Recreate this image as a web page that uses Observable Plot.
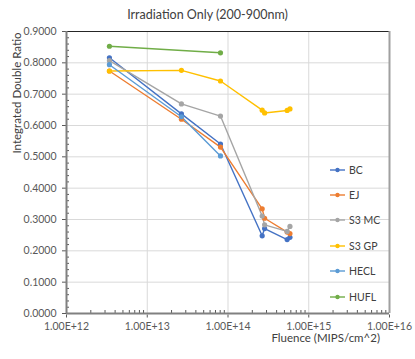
<!DOCTYPE html>
<html>
<head>
<meta charset="utf-8">
<script src="https://cdn.jsdelivr.net/npm/d3@7"></script>
<script src="https://cdn.jsdelivr.net/npm/@observablehq/plot@0.6"></script>
<style>
  html, body { margin: 0; padding: 0; background: #fff; }
  #wrap { position: relative; width: 415px; height: 359px; font-family: Lato, "Open Sans", sans-serif; }
  #title { position: absolute; left: 0; width: 415px; top: 7px; text-align: center; font-size: 12.5px; color: #404040; }
  #ylab { position: absolute; left: 16px; top: 93px; transform: translate(-50%, -50%) rotate(-90deg); white-space: nowrap; font-size: 11.5px; color: #404040; }
  #xlab { position: absolute; right: 35px; top: 332px; font-size: 11.5px; line-height: 12px; color: #404040; }
  #legend { position: absolute; left: 329px; top: 157px; font-size: 10.5px; color: #404040; }
  .li { height: 25.4px; display: flex; align-items: center; }
  .li svg { margin-right: 3px; }
</style>
</head>
<body>
<div id="wrap">
  <div id="chart"></div>
  <div id="title"></div>
  <div id="ylab"></div>
  <div id="xlab"></div>
  <div id="legend"></div>
</div>
<script>
const titleText = "Irradiation Only (200-900nm)";
const yLabel = "Integrated Double Ratio";
const xLabel = "Fluence (MIPS/cm^2)";

const seriesNames = ["BC", "EJ", "S3 MC", "S3 GP", "HECL", "HUFL"];
const seriesColors = ["#4472C4", "#ED7D31", "#A5A5A5", "#FFC000", "#5B9BD5", "#70AD47"];

const fluence = [3.4e12, 2.65e13, 8.07e13, 2.65e14, 2.84e14, 5.4e14, 5.85e14];
const fluenceHECL = [3.4e12, 2.65e13, 8.07e13];
const fluenceHUFL = [3.4e12, 8.07e13];

const bcValues   = [0.816, 0.637, 0.541, 0.248, 0.271, 0.236, 0.243];
const ejValues   = [0.774, 0.620, 0.531, 0.334, 0.304, 0.260, 0.255];
const s3mcValues = [0.807, 0.669, 0.630, 0.311, 0.283, 0.262, 0.278];
const s3gpValues = [0.774, 0.776, 0.742, 0.649, 0.640, 0.648, 0.653];
const heclValues = [0.794, 0.628, 0.503];
const huflValues = [0.853, 0.832];

const xTicks = [1e12, 1e13, 1e14, 1e15, 1e16];
const yTicks = [0, 0.1, 0.2, 0.3, 0.4, 0.5, 0.6, 0.7, 0.8, 0.9];

const seriesX = [fluence, fluence, fluence, fluence, fluenceHECL, fluenceHUFL];
const seriesY = [bcValues, ejValues, s3mcValues, s3gpValues, heclValues, huflValues];

const rows = [];
seriesNames.forEach((name, i) => {
  seriesY[i].forEach((v, j) => rows.push({series: name, x: seriesX[i][j], y: v}));
});

const xMinor = [];
for (let e = 12; e < 16; e++) for (let m = 2; m <= 9; m++) xMinor.push(m * Math.pow(10, e));
const yMinor = d3.range(0, 0.9001, 0.02).map(v => +v.toFixed(2)).filter(v => Math.abs(v * 10 - Math.round(v * 10)) > 1e-6);

const fmtX = d => d.toExponential(2).toUpperCase().replace(/E\+?(\d+)$/, (m, p) => "E+" + p);

const chart = Plot.plot({
  width: 415,
  height: 359,
  marginLeft: 66,
  marginRight: 26,
  marginTop: 31,
  marginBottom: 46,
  style: {fontFamily: "Lato, 'Open Sans', sans-serif", fontSize: "10.5px", color: "#595959", background: "white"},
  x: {type: "log", domain: [1e12, 1e16]},
  y: {domain: [0, 0.9]},
  color: {domain: seriesNames, range: seriesColors},
  marks: [
    Plot.gridY(yTicks, {stroke: "#d9d9d9", strokeOpacity: 1}),
    Plot.gridX(xTicks, {stroke: "#d9d9d9", strokeOpacity: 1}),
    Plot.ruleY([0.9], {stroke: "#262626", strokeWidth: 1.2}),
    Plot.ruleX([1e16], {stroke: "#a0a0a0", strokeWidth: 2}),
    Plot.axisY(yTicks, {tickFormat: d3.format(".4f"), tickSize: 4, stroke: "#595959", fill: "#595959", label: null, tickPadding: 6}),
    Plot.axisY(yMinor, {tickSize: 3, dx: 3, text: null, stroke: "#595959", label: null}),
    Plot.axisX(xTicks, {tickFormat: fmtX, tickSize: 3, dy: 1.5, stroke: "#595959", fill: "#595959", label: null, tickPadding: 5}),
    Plot.axisX(xMinor, {tickSize: 3, dy: -3, text: null, stroke: "#595959", label: null}),
    Plot.ruleX([1e12], {stroke: "#808080", strokeWidth: 2}),
    Plot.ruleY([0], {stroke: "#808080", strokeWidth: 2}),
    Plot.line(rows, {x: "x", y: "y", z: "series", stroke: "series", strokeWidth: 1.4}),
    Plot.dot(rows, {x: "x", y: "y", fill: "series", r: 2.6})
  ]
});
document.getElementById("chart").appendChild(chart);

document.getElementById("title").textContent = titleText;
document.getElementById("ylab").textContent = yLabel;
document.getElementById("xlab").textContent = xLabel;

const legend = document.getElementById("legend");
seriesNames.forEach((name, i) => {
  const div = document.createElement("div");
  div.className = "li";
  div.innerHTML = `<svg width="17" height="8"><line x1="1" x2="16" y1="4" y2="4" stroke="${seriesColors[i]}" stroke-width="1.4"/><circle cx="8.5" cy="4" r="2.2" fill="${seriesColors[i]}"/></svg><span>${name}</span>`;
  legend.appendChild(div);
});
</script>
</body>
</html>
